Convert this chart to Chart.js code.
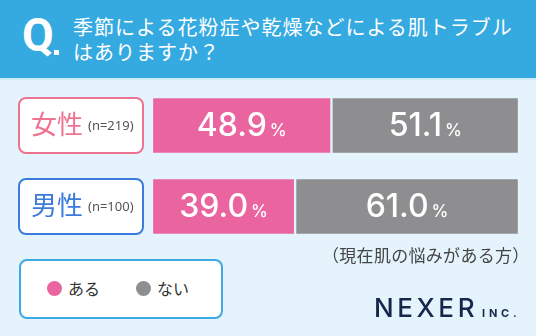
<!DOCTYPE html>
<html><head><meta charset="utf-8">
<script src="https://cdn.jsdelivr.net/npm/chart.js@4/dist/chart.umd.min.js"></script>
<style>
html,body{margin:0;padding:0;}
body{width:536px;height:336px;background:#e5f4fc;position:relative;overflow:hidden;font-family:"Noto Sans CJK JP","Noto Sans",sans-serif;}
#hdr{position:absolute;left:0;top:0;width:536px;height:78px;background:#35aae1;}
#hdrline{position:absolute;left:0;top:78px;width:536px;height:2px;background:#cdeaf8;}
#q{position:absolute;left:22px;top:12px;font:bold 46px/46px "Liberation Sans Narrow","Roboto",sans-serif;color:#fff;}
#qdot{position:absolute;left:54px;top:50px;width:5px;height:5px;background:#fff;}
#title{position:absolute;left:73px;top:14px;font-size:20px;line-height:25px;letter-spacing:1px;color:#fff;white-space:nowrap;}
#chart{position:absolute;left:0;top:0;}
#legend{position:absolute;left:19px;top:259px;width:204px;height:60px;box-sizing:border-box;border:2px solid #3eaae2;border-radius:8px;background:#fff;}
.dot{position:absolute;width:15px;height:15px;border-radius:50%;top:281px;}
.lt{position:absolute;top:278px;font-size:16px;line-height:20px;color:#333;white-space:nowrap;}
#note{position:absolute;left:322px;top:244px;font-size:17px;line-height:22px;letter-spacing:0.3px;color:#444;white-space:nowrap;}
#logo{position:absolute;left:374px;top:294.5px;font:500 26px/26px "Inter",sans-serif;letter-spacing:3.6px;color:#15284a;white-space:nowrap;}
#inc{position:absolute;left:482px;top:307.5px;font:700 11px/11px "Inter",sans-serif;letter-spacing:3.8px;color:#15284a;white-space:nowrap;}
</style>
</head><body>
<div id="hdr"></div><div id="hdrline"></div>
<div id="q">Q</div><div id="qdot"></div>
<div id="title">季節による花粉症や乾燥などによる肌トラブル<br>はありますか？</div>
<canvas id="chart" width="536" height="336"></canvas>
<div id="legend"></div>
<div class="dot" style="left:46.5px;background:#ea65a0"></div>
<div class="lt" style="left:68px">ある</div>
<div class="dot" style="left:136px;background:#8e8e90"></div>
<div class="lt" style="left:157px">ない</div>
<div id="note">（現在肌の悩みがある方）</div>
<div id="logo">NEXER</div>
<div id="inc">INC.</div>
<script>
const categories = ['女性', '男性'];
const sampleSizes = ['(n=219)', '(n=100)'];
const seriesNames = ['ある', 'ない'];
const aruValues = [48.9, 39.0];
const naiValues = [51.1, 61.0];

const BG = '#e5f4fc';
const catColors = ['#ee7391', '#3b7bdb'];

const labelPlugin = {
  id: 'labels',
  afterDatasetsDraw(chart) {
    const ctx = chart.ctx;
    chart.data.datasets.forEach((ds, di) => {
      chart.getDatasetMeta(di).data.forEach((bar, i) => {
        const cx = (bar.x + bar.base) / 2;
        const num = ds.data[i].toFixed(1);
        ctx.save();
        ctx.fillStyle = '#ffffff';
        ctx.textBaseline = 'alphabetic';
        ctx.font = '500 32px Inter, sans-serif';
        const w1 = ctx.measureText(num).width;
        ctx.font = '500 17px Inter, sans-serif';
        const w2 = ctx.measureText('%').width;
        const gap = 3;
        const x0 = cx - (w1 + gap + w2) / 2;
        const by = bar.y + 10.5;
        ctx.font = '500 32px Inter, sans-serif';
        ctx.textAlign = 'left';
        ctx.fillText(num, x0, by);
        ctx.font = '500 17px Inter, sans-serif';
        ctx.fillText('%', x0 + w1 + gap, by);
        ctx.restore();
      });
    });
    const ys = chart.scales.y;
    categories.forEach((c, i) => {
      const cy = ys.getPixelForValue(i);
      ctx.save();
      ctx.beginPath();
      ctx.roundRect(19, cy - 27.5, 124, 55, 7);
      ctx.fillStyle = '#ffffff';
      ctx.fill();
      ctx.lineWidth = 2;
      ctx.strokeStyle = catColors[i];
      ctx.stroke();
      ctx.fillStyle = catColors[i];
      ctx.font = '26px "Noto Sans CJK JP", sans-serif';
      ctx.textBaseline = 'middle';
      ctx.textAlign = 'left';
      ctx.fillText(c, 31, cy - 1.5);
      ctx.fillStyle = '#555555';
      ctx.font = '13px "Noto Sans", sans-serif';
      ctx.fillText(sampleSizes[i], 88, cy + 0.5);
      ctx.restore();
    });
  }
};

new Chart(document.getElementById('chart'), {
  type: 'bar',
  data: {
    labels: categories,
    datasets: [
      { label: seriesNames[0], data: aruValues, backgroundColor: '#ea65a0', borderColor: BG, borderWidth: 1.5, borderSkipped: false, barThickness: 57 },
      { label: seriesNames[1], data: naiValues, backgroundColor: '#8e8e90', borderColor: BG, borderWidth: 1.5, borderSkipped: false, barThickness: 57 }
    ]
  },
  options: {
    indexAxis: 'y',
    responsive: false,
    animation: false,
    devicePixelRatio: 1,
    layout: { padding: { left: 152, right: 17, top: 85, bottom: 89 } },
    scales: {
      x: { stacked: true, min: 0, max: 100, display: false },
      y: { stacked: true, display: false }
    },
    plugins: { legend: { display: false }, tooltip: { enabled: false } }
  },
  plugins: [labelPlugin]
});
</script>
</body></html>
